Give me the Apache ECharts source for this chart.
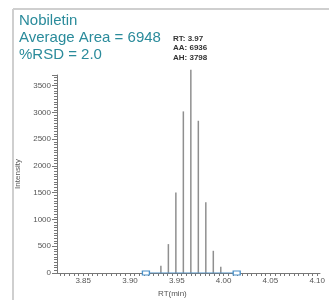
<!DOCTYPE html>
<html>
<head>
<meta charset="utf-8">
<script src="https://cdn.jsdelivr.net/npm/echarts@6/dist/echarts.min.js"></script>
<style>
  html, body { margin: 0; padding: 0; background: #fff; }
  #chart { width: 329px; height: 300px; }
</style>
</head>
<body>
<div id="chart"></div>
<script>
// retention time of each scan (min) and its intensity
var rtValues = [3.933, 3.941, 3.949, 3.957, 3.965, 3.973, 3.981, 3.989, 3.997];
var intensity = [135, 540, 1505, 3020, 3798, 2845, 1320, 415, 115];
// integration baseline start / end
var baseRt = [3.917, 4.014];
var xTickLabels = [3.85, 3.90, 3.95, 4.00, 4.05, 4.10];
var yTickLabels = [0, 500, 1000, 1500, 2000, 2500, 3000, 3500];
var titleLines = ['Nobiletin', 'Average Area = 6948', '%RSD = 2.0'];
var peakInfo = ['RT: 3.97', 'AA: 6936', 'AH: 3798'];

var xMin = 3.822, xMax = 4.103;

// small ticks every 0.005 min
var smallTicks = [];
for (var t = 3.825; t <= 4.1001; t += 0.005) {
    smallTicks.push(Math.round(t * 1000) / 1000);
}

var peaks = [];
for (var i = 0; i < rtValues.length; i++) {
    peaks.push([rtValues[i], intensity[i]]);
}

var chart = echarts.init(document.getElementById('chart'));
chart.setOption({
    animation: false,
    grid: { left: 57, right: 9, top: 75, bottom: 27 },
    graphic: [
        { type: 'line', shape: { x1: 13, y1: 9, x2: 329, y2: 9 }, style: { stroke: '#cfcfcf', lineWidth: 2 } },
        { type: 'line', shape: { x1: 13, y1: 9, x2: 13, y2: 300 }, style: { stroke: '#cfcfcf', lineWidth: 2 } },
        {
            type: 'text', left: 19, top: 12,
            style: { text: titleLines.join('\n'), fill: '#2a8b9b', font: '15px "Liberation Sans", Arial, sans-serif', lineHeight: 17 }
        },
        {
            type: 'text', left: 173, top: 34,
            style: { text: peakInfo.join('\n'), fill: '#333', font: 'bold 8px "Liberation Sans Narrow", "Liberation Sans", sans-serif', lineHeight: 9.5 }
        },
        {
            type: 'text', left: 158, top: 290,
            style: { text: 'RT(min)', fill: '#555', font: '8px "Liberation Sans", sans-serif' }
        }
    ],
    xAxis: {
        type: 'value',
        min: xMin,
        max: xMax,
        axisLine: { lineStyle: { color: '#777', width: 1 } },
        axisTick: { show: true, customValues: smallTicks, length: 3, lineStyle: { color: '#777' } },
        axisLabel: {
            customValues: xTickLabels,
            formatter: function (v) { return v.toFixed(2); },
            fontSize: 8, color: '#555', margin: 4,
            fontFamily: '"Liberation Sans Narrow", "Liberation Sans", sans-serif'
        },
        splitLine: { show: false }
    },
    yAxis: {
        type: 'value',
        min: 0,
        max: 3700,
        interval: 500,
        name: 'Intensity',
        nameLocation: 'middle',
        nameGap: 35,
        nameTextStyle: { fontSize: 8, color: '#555' },
        axisLine: { show: true, lineStyle: { color: '#777', width: 1 } },
        axisTick: { show: true, length: 5, lineStyle: { color: '#777' } },
        minorTick: { show: true, splitNumber: 10, length: 3, lineStyle: { color: '#777' } },
        axisLabel: {
            customValues: yTickLabels,
            formatter: function (v) { return String(v); },
            fontSize: 8, color: '#555', margin: 6,
            fontFamily: '"Liberation Sans Narrow", "Liberation Sans", sans-serif'
        },
        splitLine: { show: false }
    },
    series: [
        {
            type: 'bar',
            data: peaks,
            barWidth: 1.5,
            clip: false,
            itemStyle: { color: '#8f8f8f' }
        },
        {
            type: 'line',
            data: [[baseRt[0], 0], [baseRt[1], 0]],
            symbol: 'rect',
            symbolSize: [7, 4],
            itemStyle: { color: '#fff', borderColor: '#4a90c8', borderWidth: 1 },
            lineStyle: { color: '#4a90c8', width: 1 }
        }
    ]
});
</script>
</body>
</html>
